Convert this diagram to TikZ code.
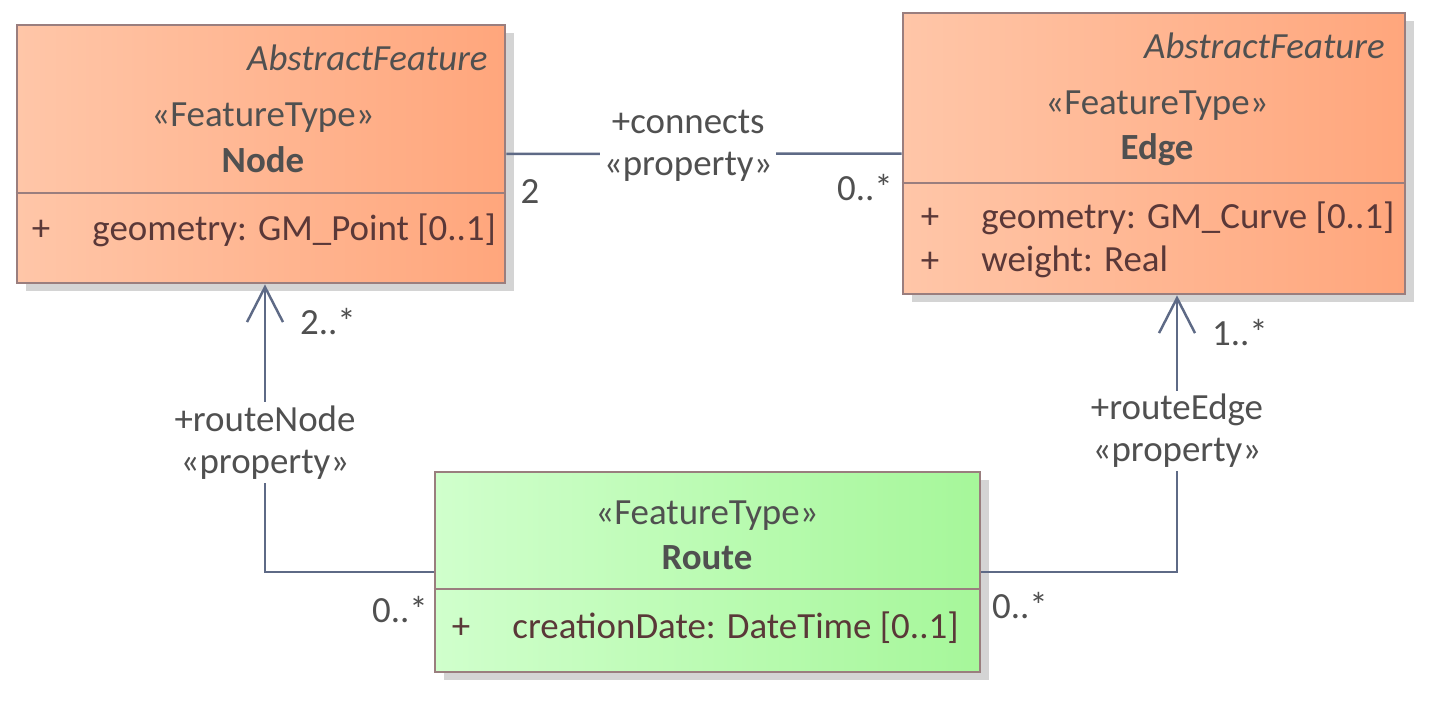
\documentclass[tikz,border=0pt]{standalone}
\usepackage{fontspec}
\setmainfont{Carlito}
\usetikzlibrary{positioning,arrows.meta,shadows}
\definecolor{txtgray}{HTML}{505050}
\definecolor{attrcol}{HTML}{5A3838}
\definecolor{linecol}{HTML}{5E6A86}
\definecolor{boxborder}{HTML}{9A7E7E}
\definecolor{shadowgray}{HTML}{D4D4D4}
\definecolor{orangeL}{HTML}{FFC6A8}
\definecolor{orangeR}{HTML}{FFA67C}
\definecolor{greenL}{HTML}{D0FFCC}
\definecolor{greenR}{HTML}{A6F79A}
\begin{document}
\begin{tikzpicture}[>={Straight Barb[length=3.5mm,width=3.6mm]}, every node/.style={font=\fontsize{10.5}{12}\selectfont, text=txtgray}]
\tikzset{
  classbox/.style={
    draw=boxborder,
    line width=0.8pt,
    rectangle,
    inner sep=0pt,
    drop shadow={shadow xshift=0.9mm, shadow yshift=-0.8mm, fill=shadowgray, opacity=1},
  },
  featbox/.style={classbox, left color=orangeL, right color=orangeR},
  routebox/.style={classbox, left color=greenL, right color=greenR},
  divider/.style={draw=boxborder, line width=0.8pt},
  connector/.style={draw=linecol, line width=0.7pt},
  rolelabel/.style={fill=white, align=center, inner sep=1pt},
  attr/.style={text=attrcol, anchor=west},
  mult/.style={inner sep=1pt}
}
\useasboundingbox (0,0) rectangle (14.33,7);
% class boxes
\node[featbox, minimum width=4.88cm, minimum height=2.58cm] (nodebox) at (2.61,5.46) {};
\node[featbox, minimum width=5.02cm, minimum height=2.81cm] (edgebox) at (11.54,5.465) {};
\node[routebox, minimum width=5.45cm, minimum height=2.00cm] (routebox) at (7.075,1.28) {};
\draw[divider] (nodebox.west |- 0,5.07) -- (nodebox.east |- 0,5.07);
\draw[divider] (edgebox.west |- 0,5.17) -- (edgebox.east |- 0,5.17);
\draw[divider] (routebox.west |- 0,1.11) -- (routebox.east |- 0,1.11);
% Node
\node[anchor=east, font=\fontsize{10.5}{12}\selectfont\itshape] (nodeabs) at (5.00,6.42) {AbstractFeature};
\node (nodestereo) at (2.63,5.82) {«FeatureType»};
\node[font=\fontsize{10.5}{12}\selectfont\bfseries] (nodename) at (2.63,5.40) {Node};
\node[text=attrcol] (nodeplus) at (0.41,4.70) {+};
\node[attr] (nodegeom) at (0.80,4.70) {geometry: GM\_Point [0..1]};
% Edge
\node[anchor=east, font=\fontsize{10.5}{12}\selectfont\itshape] (edgeabs) at (13.97,6.54) {AbstractFeature};
\node (edgestereo) at (11.57,5.94) {«FeatureType»};
\node[font=\fontsize{10.5}{12}\selectfont\bfseries] (edgename) at (11.57,5.50) {Edge};
\node[text=attrcol] (edgeplusa) at (9.30,4.82) {+};
\node[attr] (edgegeom) at (9.69,4.82) {geometry: GM\_Curve [0..1]};
\node[text=attrcol] (edgeplusb) at (9.30,4.38) {+};
\node[attr] (edgeweight) at (9.69,4.38) {weight: Real};
% Route
\node (routestereo) at (7.07,1.84) {«FeatureType»};
\node[font=\fontsize{10.5}{12}\selectfont\bfseries] (routename) at (7.07,1.42) {Route};
\node[text=attrcol] (routeplus) at (4.61,0.72) {+};
\node[attr] (routedate) at (5.00,0.72) {creationDate: DateTime [0..1]};
% associations
\coordinate (edgetip) at ([xshift=2.3mm]edgebox.south);
\coordinate (nodetip) at ([xshift=0.4mm]nodebox.south);
\draw[connector] (nodebox) -- (edgebox)
  node[pos=0.46, yshift=0.8mm, rolelabel] (connlbl) {+connects\\«property»};
\draw[connector, ->] (routebox.west) -| (nodetip)
  node[pos=0.725, rolelabel] (rnlbl) {+routeNode\\«property»};
\draw[connector, ->] (routebox.east) -| (edgetip)
  node[pos=0.755, rolelabel] (relbl) {+routeEdge\\«property»};
% multiplicities
\node[mult] (mnode) at (5.30,5.08) {2};
\node[mult] (medge) at (8.65,5.12) {0..*};
\node[mult] (mrn) at (3.28,3.78) {2..*};
\node[mult] (mrouteA) at (4.00,0.90) {0..*};
\node[mult] (mre) at (12.40,3.67) {1..*};
\node[mult] (mrouteB) at (10.20,0.94) {0..*};
\end{tikzpicture}
\end{document}
